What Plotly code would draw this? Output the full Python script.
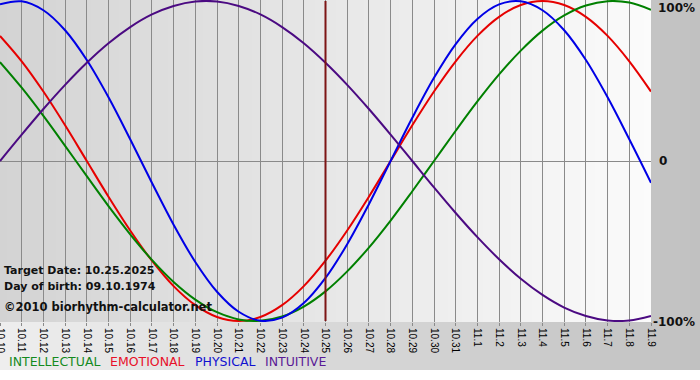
import plotly.graph_objects as go

# ---- data ----
dates = ["10.10", "10.11", "10.12", "10.13", "10.14", "10.15", "10.16", "10.17",
         "10.18", "10.19", "10.20", "10.21", "10.22", "10.23", "10.24", "10.25",
         "10.26", "10.27", "10.28", "10.29", "10.30", "10.31", "11.1", "11.2",
         "11.3", "11.4", "11.5", "11.6", "11.7", "11.8", "11.9"]

intellectual = [0.618, 0.458, 0.282, 0.095, -0.095, -0.282, -0.458, -0.618,
                -0.756, -0.866, -0.945, -0.990, -0.999, -0.972, -0.910, -0.815,
                -0.690, -0.541, -0.372, -0.189, 0.0, 0.189, 0.372, 0.541,
                0.690, 0.815, 0.910, 0.972, 0.999, 0.990, 0.945]

emotional = [0.782, 0.623, 0.434, 0.223, 0.0, -0.223, -0.434, -0.623,
             -0.782, -0.901, -0.975, -1.0, -0.975, -0.901, -0.782, -0.623,
             -0.434, -0.223, 0.0, 0.223, 0.434, 0.623, 0.782, 0.901,
             0.975, 1.0, 0.975, 0.901, 0.782, 0.623, 0.434]

physical = [0.979, 0.998, 0.942, 0.817, 0.631, 0.398, 0.136, -0.136,
            -0.398, -0.631, -0.817, -0.942, -0.998, -0.979, -0.888, -0.731,
            -0.520, -0.270, 0.0, 0.270, 0.520, 0.731, 0.888, 0.979,
            0.998, 0.942, 0.817, 0.631, 0.398, 0.136, -0.136]

intuitive = [0.0, 0.165, 0.325, 0.476, 0.614, 0.736, 0.837, 0.916,
             0.969, 0.997, 0.997, 0.969, 0.916, 0.837, 0.736, 0.614,
             0.476, 0.325, 0.165, 0.0, -0.165, -0.325, -0.476, -0.614,
             -0.736, -0.837, -0.916, -0.969, -0.997, -0.997, -0.969]

target_date = "10.25"
info_lines = ["Target Date: 10.25.2025", "Day of birth: 09.10.1974"]
copyright_text = "\u00a92010 biorhythm-calculator.net"
legend_names = ["INTELLECTUAL", "EMOTIONAL", "PHYSICAL", "INTUITIVE"]
right_labels = ["100%", "0", "-100%"]

# ---- layout geometry (pixels) ----
W, H = 700, 380
PLOT_W, PLOT_H = 651, 322


def px(x):
    return x / PLOT_W


def py(y):
    return (PLOT_H - y) / PLOT_H


def lerp_color(c0, c1, t):
    v = [round(a + (b - a) * t) for a, b in zip(c0, c1)]
    return "rgb(%d,%d,%d)" % tuple(v)


shapes = []
# page gradient (light on left -> gray on right), white strip at very bottom
n = 70
for i in range(n):
    x0 = W * i / n
    x1 = W * (i + 1) / n + 0.8
    shapes.append(dict(type="rect", xref="paper", yref="paper",
                       x0=px(x0), x1=px(x1), y0=py(370), y1=py(-2),
                       fillcolor=lerp_color((238, 238, 238), (193, 193, 193), (i + 0.5) / n),
                       line=dict(width=0), layer="below"))
# plot area gradient (gray on left -> near white on right)
n2 = 93
for i in range(n2):
    x0 = PLOT_W * i / n2
    x1 = PLOT_W * (i + 1) / n2 + 0.8
    shapes.append(dict(type="rect", xref="paper", yref="paper",
                       x0=px(x0), x1=px(min(x1, PLOT_W)), y0=0, y1=1,
                       fillcolor=lerp_color((211, 211, 211), (251, 251, 251), (i + 0.5) / n2),
                       line=dict(width=0), layer="below"))

xs = list(range(len(dates)))
ti = dates.index(target_date)

fig = go.Figure()
series = [
    (emotional, "#e60000"),
    (intellectual, "#008000"),
    (physical, "#0000e6"),
    (intuitive, "#4b0a82"),
]
for vals, col in series:
    fig.add_trace(go.Scatter(x=xs, y=vals, mode="lines",
                             line=dict(color=col, width=2, shape="spline", smoothing=1.0),
                             hoverinfo="skip", showlegend=False))

shapes.append(dict(type="line", xref="x", yref="y", x0=ti, x1=ti, y0=-1, y1=1,
                   line=dict(color="#7d1515", width=2)))

annotations = []
for txt, ypix in zip(info_lines, [270, 286]):
    annotations.append(dict(text="<b>%s</b>" % txt, xref="paper", yref="paper",
                            x=px(2), y=py(ypix), xanchor="left", yanchor="middle",
                            showarrow=False,
                            font=dict(family="DejaVu Sans", size=11, color="#111111")))
annotations.append(dict(text="<b>%s</b>" % copyright_text, xref="paper", yref="paper",
                        x=px(2), y=py(307), xanchor="left", yanchor="middle",
                        showarrow=False,
                        font=dict(family="DejaVu Sans", size=11.5, color="#111111")))
for txt, xpix, ypix in zip(right_labels, [656, 657, 651], [8, 161, 322]):
    annotations.append(dict(text="<b>%s</b>" % txt, xref="paper", yref="paper",
                            x=px(xpix), y=py(ypix), xanchor="left", yanchor="middle",
                            showarrow=False,
                            font=dict(family="DejaVu Sans", size=12, color="#111111")))
legend_colors = ["#148a1e", "#e8102a", "#1010d0", "#5a1a96"]
for name, col, xpix in zip(legend_names, legend_colors, [7, 108, 193, 263]):
    annotations.append(dict(text=name, xref="paper", yref="paper",
                            x=px(xpix), y=py(361), xanchor="left", yanchor="middle",
                            showarrow=False,
                            font=dict(family="DejaVu Sans", size=12.5, color=col)))

fig.update_layout(
    width=W, height=H,
    margin=dict(l=0, r=W - PLOT_W, t=0, b=H - PLOT_H, pad=0, autoexpand=False),
    paper_bgcolor="#ffffff",
    plot_bgcolor="rgba(0,0,0,0)",
    shapes=shapes,
    annotations=annotations,
    showlegend=False,
    xaxis=dict(range=[0, len(dates) - 1], tickvals=xs, ticktext=dates,
               tickangle=90, showgrid=True, gridcolor="#8a8a8a", gridwidth=1,
               ticks="outside", ticklen=3, tickcolor="#8a8a8a",
               zeroline=False, showline=False, fixedrange=True,
               automargin=False, ticklabeloverflow="allow",
               tickfont=dict(family="Liberation Sans", size=10, color="#000000")),
    yaxis=dict(range=[-1.00625, 1.00625], tickvals=[-1, 0, 1],
               showticklabels=False, showgrid=True, gridcolor="#8a8a8a",
               gridwidth=1, zeroline=False, showline=False, fixedrange=True,
               automargin=False),
)

fig.write_html("out.html", config={"displayModeBar": False},
               post_script="document.body.style.margin='0px';document.body.style.overflow='hidden';")
